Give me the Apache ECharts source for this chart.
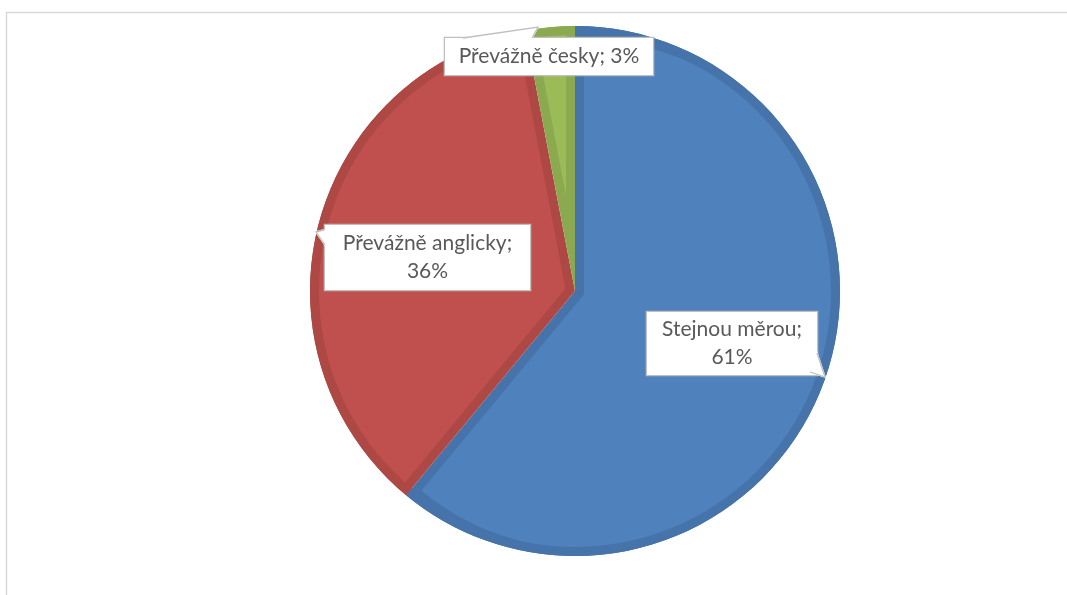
<!DOCTYPE html>
<html>
<head>
<meta charset="utf-8">
<script src="https://cdn.jsdelivr.net/npm/echarts@6/dist/echarts.min.js"></script>
<style>
  html, body { margin: 0; padding: 0; background: #ffffff; }
  #chart { width: 1067px; height: 595px; }
</style>
</head>
<body>
<div id="chart"></div>
<script>
// Slice names and their shares (percent)
const categories = ['Stejnou měrou', 'Převážně anglicky', 'Převážně česky'];
const shares = [61, 36, 3];

// Slice fill colours and the darker inner edge of each slice
const fillColors = ['#4F81BD', '#C0504D', '#9BBB59'];
const edgeColors = ['#4673AA', '#AE4845', '#8BA94F'];

const CENTER = [575, 291];
const RADIUS = 265;
const EDGE = 9;            // width of the darker band inside each slice
const START_ANGLE = 90;

// Callout boxes: centre, size, and whether the value goes on a second line
const labelBoxes = [
  { x: 732,   y: 343.5, w: 170, h: 63, wrap: true },
  { x: 427.5, y: 257.5, w: 205, h: 65, wrap: true },
  { x: 549,   y: 56.5,  w: 208, h: 37, wrap: false }
];
const LINE_H = 28;

function sliceData(colorOf) {
  return categories.map((name, i) => ({
    name: name,
    value: shares[i],
    itemStyle: { color: colorOf(i) }
  }));
}

const common = {
  type: 'pie',
  startAngle: START_ANGLE,
  clockwise: true,
  silent: true,
  animation: false,
  avoidLabelOverlap: false,
  label: { show: false },
  labelLine: { show: false },
  emphasis: { disabled: true }
};

const series = [];

// Darker full disc underneath
series.push(Object.assign({}, common, {
  z: 1,
  center: CENTER,
  radius: RADIUS,
  data: sliceData(i => edgeColors[i])
}));

// Lighter body of each slice: the same sector moved inwards along its bisector,
// so both straight edges sit EDGE pixels inside the slice
const total = shares.reduce((a, b) => a + b, 0);
let acc = 0;
shares.forEach((v, k) => {
  const sweep = v / total * 2 * Math.PI;
  const a0 = START_ANGLE * Math.PI / 180 - acc / total * 2 * Math.PI;
  const mid = a0 - sweep / 2;
  acc += v;
  const shift = EDGE / Math.sin(sweep / 2);
  const inner = RADIUS - EDGE;
  const needed = Math.sqrt(inner * inner + shift * shift - 2 * inner * shift * Math.cos(sweep / 2));
  const r = Math.min(RADIUS - shift - 0.5, needed + 2);
  series.push(Object.assign({}, common, {
    z: 2,
    center: [CENTER[0] + shift * Math.cos(mid), CENTER[1] - shift * Math.sin(mid)],
    radius: r,
    data: sliceData(i => (i === k ? fillColors[i] : 'rgba(0,0,0,0)'))
  }));
});

// Darker rim along the outer arc
series.push(Object.assign({}, common, {
  z: 3,
  center: CENTER,
  radius: [RADIUS - EDGE, RADIUS],
  data: sliceData(i => edgeColors[i])
}));

// Transparent copy carrying the data labels
series.push(Object.assign({}, common, {
  z: 4,
  center: CENTER,
  radius: RADIUS,
  data: categories.map((name, i) => {
    const b = labelBoxes[i];
    const lines = b.wrap ? 2 : 1;
    const padY = (b.h - lines * LINE_H) / 2;
    return {
      name: name,
      value: shares[i],
      itemStyle: { color: 'rgba(0,0,0,0)' },
      label: { width: b.w - 8, padding: [padY, 4] }
    };
  }),
  label: {
    show: true,
    position: 'inside',
    formatter: p => p.name + ';' + (labelBoxes[p.dataIndex].wrap ? '\n' : ' ') + p.percent + '%',
    color: '#595959',
    fontFamily: 'Lato',
    fontSize: 21,
    lineHeight: LINE_H,
    align: 'center',
    backgroundColor: '#ffffff',
    borderColor: '#BFBFBF',
    borderWidth: 1.3
  },
  labelLayout: function (params) {
    const b = labelBoxes[params.dataIndex];
    return { x: b.x, y: b.y, align: 'center', verticalAlign: 'middle' };
  }
}));

// Callout pointers: white wedge body plus its two grey sides
const pointers = [
  [[817, 353], [825, 377], [810, 372]],
  [[325, 229.5], [316, 232], [325, 245]],
  [[463, 38], [538, 27], [532, 38]]
];
const graphics = [{
  type: 'rect',
  z: 0,
  shape: { x: 6.5, y: 12.5, width: 1120, height: 700 },
  style: { fill: 'none', stroke: '#D9D9D9', lineWidth: 1.5 },
  silent: true
}];
pointers.forEach(pts => {
  graphics.push({
    type: 'polygon', z: 100, silent: true,
    shape: { points: pts },
    style: { fill: '#ffffff', stroke: '#ffffff', lineWidth: 1.6 }
  });
  graphics.push({
    type: 'polyline', z: 101, silent: true,
    shape: { points: pts },
    style: { fill: 'none', stroke: '#BFBFBF', lineWidth: 1.3 }
  });
});

const chart = echarts.init(document.getElementById('chart'), null, { renderer: 'canvas' });
chart.setOption({
  backgroundColor: '#ffffff',
  animation: false,
  graphic: graphics,
  series: series
});
</script>
</body>
</html>
